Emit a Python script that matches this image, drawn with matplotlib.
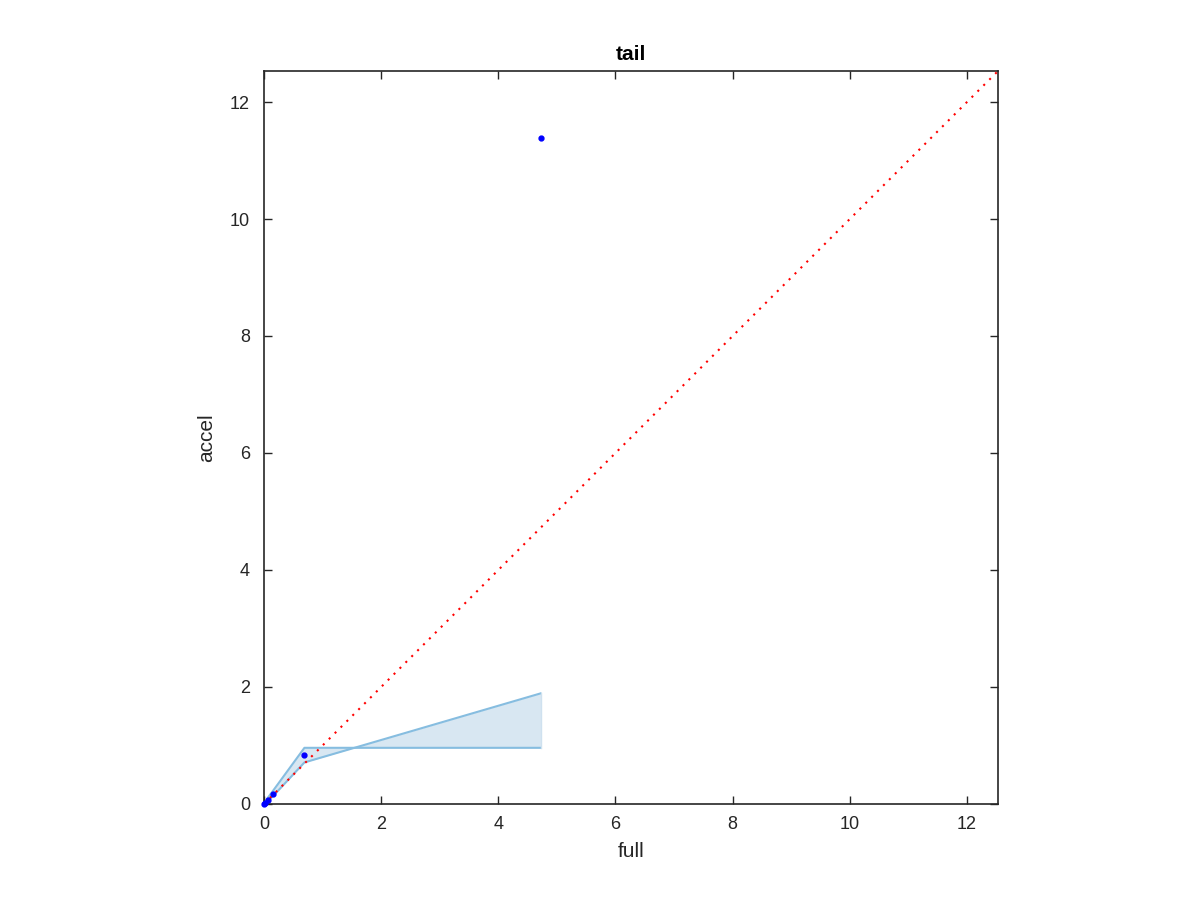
import matplotlib
matplotlib.use("Agg")
import matplotlib.pyplot as plt

plt.rcParams['font.family'] = ['Liberation Sans', 'DejaVu Sans']

# data
pts_x = [0.0, 0.02, 0.06, 0.15, 0.68, 4.72]
pts_y = [0.0, 0.02, 0.07, 0.17, 0.84, 11.38]
band_x = [0.0, 0.06, 0.15, 0.69, 4.72]
band_hi = [0.0, 0.10, 0.22, 0.96, 0.96]
band_lo = [0.0, 0.05, 0.13, 0.71, 1.89]
lim = 12.53
ticks = [0, 2, 4, 6, 8, 10, 12]

fig = plt.figure(figsize=(12, 9), dpi=100)
ax = fig.add_axes([0.22, 0.1067, 0.6117, 0.8144])
ax.fill_between(band_x, band_lo, band_hi, color='#d8e7f2', lw=0, zorder=1)
ax.plot(band_x, band_hi, color='#86bde0', lw=1.5, zorder=2)
ax.plot(band_x, band_lo, color='#86bde0', lw=1.5, zorder=2)
ax.plot([band_x[-1], band_x[-1]], [band_hi[-1], band_lo[-1]], color='#cfe1ef', lw=1, zorder=2)
ax.plot([0, lim], [0, lim], color='red', ls=(0, (1, 3)), lw=1.5, zorder=3)
ax.plot(pts_x, pts_y, 'o', color='blue', ms=3.5, zorder=4, clip_on=False)

ax.set_xlim(0, lim)
ax.set_ylim(0, lim)
ax.set_xticks(ticks)
ax.set_yticks(ticks)
ax.tick_params(direction='in', top=True, right=True, length=6, width=1, labelsize=13, colors='#262626')
ax.tick_params(axis='x', pad=9)
ax.tick_params(axis='y', pad=10)
for s in ax.spines.values():
    s.set_linewidth(1.2)
    s.set_color('#262626')
ax.set_xlabel('full', fontsize=15, color='#262626', labelpad=6)
ax.set_ylabel('accel', fontsize=15, color='#262626', labelpad=10)
ax.set_title('tail', fontsize=15, fontweight='bold', pad=8)
fig.savefig('out.png', dpi=100)
